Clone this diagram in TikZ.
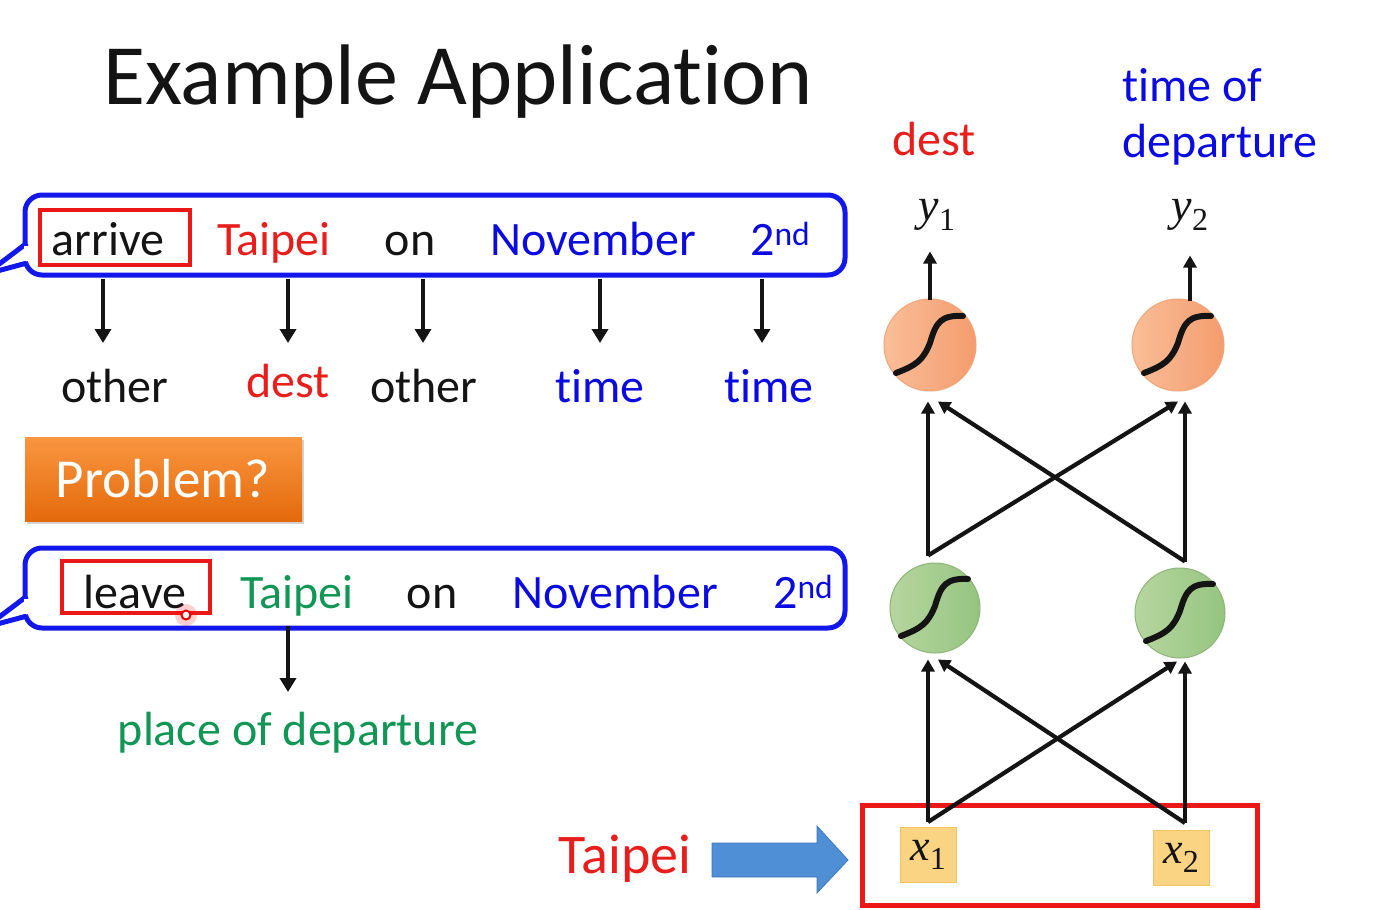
\documentclass[tikz,border=0pt]{standalone}
\usepackage{fontspec}
\setmainfont{Carlito}[Ligatures=CommonOff]
\newfontfamily\mathserif{Liberation Serif}
\usetikzlibrary{arrows.meta,shadows}

\definecolor{bblue}{RGB}{18,24,235}
\definecolor{tblue}{RGB}{10,10,225}
\definecolor{tred}{RGB}{232,30,28}
\definecolor{tgreen}{RGB}{18,150,85}
\definecolor{boxred}{RGB}{236,24,24}
\definecolor{ink}{RGB}{20,20,20}
\definecolor{greenL}{RGB}{182,214,160}
\definecolor{greenR}{RGB}{150,196,128}
\definecolor{greenE}{RGB}{140,182,118}
\definecolor{orangeL}{RGB}{250,190,152}
\definecolor{orangeR}{RGB}{244,156,110}
\definecolor{orangeE}{RGB}{240,165,120}
\definecolor{tagTop}{RGB}{249,150,64}
\definecolor{tagBot}{RGB}{228,106,12}
\definecolor{inFill}{RGB}{250,211,131}
\definecolor{inEdge}{RGB}{240,196,100}
\definecolor{arrFill}{RGB}{78,143,214}
\definecolor{arrEdge}{RGB}{60,120,190}

\newcommand{\var}[2]{{\mathserif\itshape #1}\raisebox{-0.22em}{\mathserif\fontsize{32}{32}\selectfont #2}}

\tikzset{
  word/.style={inner sep=0pt, anchor=base, text=ink, font=\fontsize{48}{56}\selectfont},
  bubble/.style={draw=bblue, line width=5pt, rounded corners=17pt, fill=white, inner sep=0pt},
  markbox/.style={draw=boxred, line width=4pt, inner sep=0pt},
  tagarrow/.style={draw=ink, line width=4.8pt, -{Triangle[width=16pt,length=14pt]}},
  netarrow/.style={draw=ink, line width=4.2pt, -{Triangle[width=13pt,length=12pt]}},
  sigmoid/.style={draw=ink, line width=6pt, line cap=round},
  hidden/.style={circle, minimum size=90pt, inner sep=0pt, shading=axis, shading angle=90,
    left color=greenL, right color=greenR, draw=greenE, line width=1pt},
  output/.style={circle, minimum size=92pt, inner sep=0pt, shading=axis, shading angle=90,
    left color=orangeL, right color=orangeR, draw=orangeE, line width=1pt},
  inbox/.style={minimum width=56pt, minimum height=55pt, inner sep=0pt,
    fill=inFill, draw=inEdge, line width=1pt, font=\fontsize{44}{44}\selectfont, text=ink},
  mathlabel/.style={inner sep=0pt, anchor=base, text=ink, font=\fontsize{46}{46}\selectfont}
}

% a sigmoid stroke centred on a neuron
\newcommand{\sigstroke}[1]{%
  \draw[sigmoid] ([shift={(-34pt,-28pt)}]#1.center) .. controls +(21pt,8pt) and +(-7pt,-17pt) ..
    ([shift={(0pt,2pt)}]#1.center) .. controls +(6pt,21pt) and +(-22pt,1pt) ..
    ([shift={(33pt,29pt)}]#1.center);}

\begin{document}
\begin{tikzpicture}[x=1pt,y=-1pt]
\useasboundingbox (0,0) rectangle (1398,910);
\fill[white] (0,0) rectangle (1398,910);

% title
\node[inner sep=0pt, anchor=base west, text=ink, font=\fontsize{86}{90}\selectfont] (title) at (103,104) {Example Application};

% ---------- first sentence ----------
\node[bubble, minimum width=820pt, minimum height=80pt] (b1) at (435,235) {};
\draw[draw=bblue, line width=5pt, line join=round, fill=white] (27,243) -- (-14,274) -- (27,263);
\fill[white] (24,246) rectangle (30,261);
\node[markbox, minimum width=150pt, minimum height=55pt] (m1) at (115,237.5) {};

\node[word] (w11) at (108,255) {arrive};
\node[word, text=tred] (w12) at (274,255) {Taipei};
\node[word] (w13) at (410,255) {on};
\node[word, text=tblue] (w14) at (593,255) {November};
\node[word, text=tblue, anchor=base west] (w15) at (750,255) {2\textsuperscript{nd}};

\node[word] (l11) at (115,402) {other};
\node[word, text=tred] (l12) at (288,397) {dest};
\node[word] (l13) at (424,402) {other};
\node[word, text=tblue] (l14) at (600,402) {time};
\node[word, text=tblue] (l15) at (769,402) {time};

\foreach \i/\x in {1/103,2/288,3/423,4/600,5/762}{
  \coordinate (s\i) at (\x,279);
  \coordinate (e\i) at (\x,343);
  \draw[tagarrow] (s\i) -- (e\i);
}

% ---------- problem tag ----------
\node[minimum width=277pt, minimum height=84pt, inner sep=0pt, anchor=north west,
  top color=tagTop, bottom color=tagBot,
  drop shadow={opacity=0.35, shadow xshift=2pt, shadow yshift=-3pt}] (prob) at (25,437) {};
\node[inner sep=0pt, anchor=base, text=white, font=\fontsize{55}{60}\selectfont] (probtxt) at (163,497) {Problem?};

% ---------- second sentence ----------
\node[bubble, minimum width=820pt, minimum height=80pt] (b2) at (435,588) {};
\draw[draw=bblue, line width=5pt, line join=round, fill=white] (27,596) -- (-14,627) -- (27,616);
\fill[white] (24,599) rectangle (30,614);
\node[markbox, minimum width=148pt, minimum height=52pt] (m2) at (136,587) {};

\node[word] (w21) at (135,608) {leave};
\node[word, text=tgreen] (w22) at (297,608) {Taipei};
\node[word] (w23) at (432,608) {on};
\node[word, text=tblue] (w24) at (615,608) {November};
\node[word, text=tblue, anchor=base west] (w25) at (773,608) {2\textsuperscript{nd}};

\node[word, text=tgreen] (l22) at (298,745) {place of departure};
\coordinate (s6) at (288,626);
\coordinate (e6) at (288,692);
\draw[tagarrow] (s6) -- (e6);

% pointer
\fill[red, opacity=0.18] (186,615) circle (11pt);
\draw[red!90!black, line width=2pt, fill=white] (186,615) circle (4.5pt);

% ---------- network ----------
\node[output] (o1) at (930,345) {};
\node[output] (o2) at (1178,345) {};
\node[hidden] (g1) at (935,608) {};
\node[hidden] (g2) at (1180,613) {};
\sigstroke{o1}
\sigstroke{o2}
\sigstroke{g1}
\sigstroke{g2}

\node[inbox] (x1) at (928,855) {\var{x}{1}};
\node[inbox] (x2) at (1181,858) {\var{x}{2}};
\node[draw=boxred, line width=5pt, minimum width=395pt, minimum height=100pt, inner sep=0pt] (inp) at (1059.5,855) {};

\node[mathlabel] (y1) at (937,220) {\var{y}{1}};
\node[mathlabel] (y2) at (1190,220) {\var{y}{2}};

\node[word, text=tred] (dest) at (934,155) {dest};
\node[word, text=tblue, anchor=base west] (tod1) at (1122,101) {time of};
\node[word, text=tblue, anchor=base west] (tod2) at (1122,157) {departure};

% outputs
\draw[netarrow] ([yshift=-1pt]o1.north) -- ([yshift=47pt]o1.north);
\draw[netarrow] ([xshift=12pt,yshift=-2pt]o2.north) -- ([xshift=12pt,yshift=43pt]o2.north);

% hidden to output
\draw[netarrow] ([xshift=-7pt,yshift=7pt]g1.north) -- ([xshift=-2pt,yshift=-10pt]o1.south);
\draw[netarrow] ([xshift=-7pt,yshift=7pt]g1.north) -- ([xshift=0pt,yshift=-10pt]o2.south);
\draw[netarrow] ([xshift=5pt,yshift=6pt]g2.north) -- ([xshift=7pt,yshift=-10pt]o2.south);
\draw[netarrow] ([xshift=5pt,yshift=6pt]g2.north) -- ([xshift=8pt,yshift=-10pt]o1.south);

% input to hidden
\draw[netarrow] ([yshift=5pt]x1.north) -- ([xshift=-7pt,yshift=-6pt]g1.south);
\draw[netarrow] ([yshift=5pt]x1.north) -- ([xshift=-3pt,yshift=-3pt]g2.south);
\draw[netarrow] ([xshift=4pt,yshift=7pt]x2.north) -- ([xshift=5pt,yshift=-3pt]g2.south);
\draw[netarrow] ([xshift=4pt,yshift=7pt]x2.north) -- ([xshift=3pt,yshift=-6pt]g1.south);

% token fed in
\node[inner sep=0pt, anchor=base, text=tred, font=\fontsize{56}{60}\selectfont] (tok) at (625,873) {Taipei};
\draw[fill=arrFill, draw=arrEdge, line width=0.8pt]
  (712,843) -- (817,843) -- (817,826) -- (848,860) -- (817,893) -- (817,877) -- (712,877) -- cycle;
\end{tikzpicture}
\end{document}
